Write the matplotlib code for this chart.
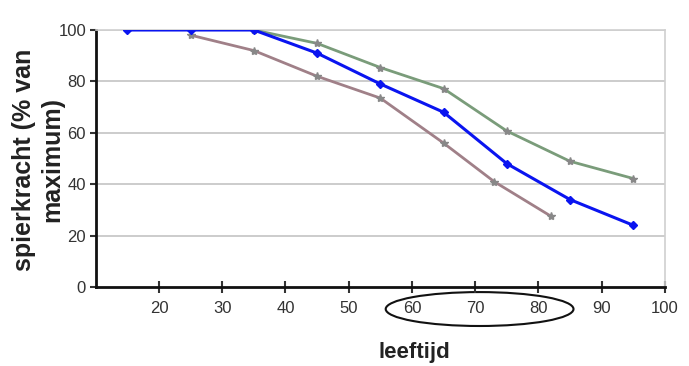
import matplotlib.pyplot as plt
from matplotlib.patches import Ellipse
import matplotlib.transforms as mtransforms

# data
age_blue = [15, 25, 35, 45, 55, 65, 75, 85, 95]
val_blue = [100, 100, 100, 91, 79, 68, 48, 34, 24]

age_green = [35, 45, 55, 65, 75, 85, 95]
val_green = [100, 94.8, 85.4, 77.2, 60.7, 48.9, 42.2]

age_pink = [25, 35, 45, 55, 65, 73, 82]
val_pink = [98, 92, 82, 73.5, 56, 41, 27.5]

xticks = [20, 30, 40, 50, 60, 70, 80, 90, 100]
yticks = [0, 20, 40, 60, 80, 100]

plt.rcParams['font.family'] = ['Liberation Sans', 'DejaVu Sans']

fig = plt.figure(figsize=(6.89, 3.66), dpi=100)
ax = fig.add_axes([0.139, 0.216, 0.826, 0.702])

# grid lines
for y in yticks[1:]:
	ax.axhline(y, color='#c4c4c4', lw=1.2, zorder=0)

ax.plot(age_green, val_green, color='#7a9c7a', lw=2, marker='*', ms=6,
	mfc='#888888', mec='#888888', zorder=3)
ax.plot(age_pink, val_pink, color='#a08088', lw=2, marker='*', ms=6,
	mfc='#888888', mec='#888888', zorder=3)
ax.plot(age_blue, val_blue, color='#0a14f0', lw=2.2, marker='D', ms=4.5,
	mfc='#0a14f0', mec='#0a14f0', zorder=4)

ax.set_xlim(10, 100)
ax.set_ylim(0, 100)
ax.set_xticks(xticks)
ax.set_yticks(yticks)
ax.tick_params(axis='both', labelsize=12, colors='#333333', width=1.5)
ax.tick_params(axis='x', direction='inout', length=8, pad=6)
ax.tick_params(axis='y', direction='out', length=4, pad=3)

for s in ['left', 'bottom']:
	ax.spines[s].set_linewidth(2)
	ax.spines[s].set_color('#111111')
for s in ['top', 'right']:
	ax.spines[s].set_linewidth(1.2)
	ax.spines[s].set_color('#d0d0d0')

# ellipse around 60-80
trans = mtransforms.blended_transform_factory(ax.transData, ax.transAxes)
ell = Ellipse((70.7, -0.086), 29.7, 0.132, transform=trans, fill=False,
	edgecolor='#111111', lw=1.5, clip_on=False)
ax.add_patch(ell)

fig.text(0.601, 0.022, 'leeftijd', fontsize=16, fontweight='bold',
	ha='center', va='baseline', color='#222222')
fig.text(0.055, 0.563, 'spierkracht (% van\nmaximum)', fontsize=18,
	fontweight='bold', rotation=90, ha='center', va='center',
	multialignment='center', linespacing=1.25, color='#222222')

fig.savefig('out.png', dpi=100)
